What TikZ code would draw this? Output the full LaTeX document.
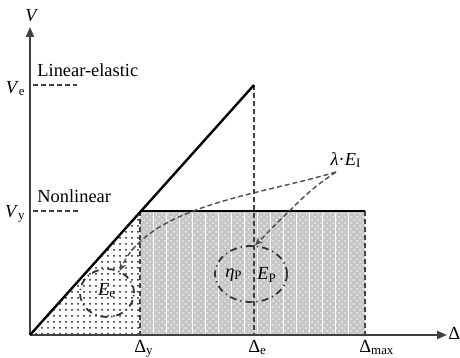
\documentclass[tikz,border=0pt]{standalone}
\usepackage{fontspec}
\setmainfont{Liberation Serif}
\usetikzlibrary{arrows.meta,patterns,shapes.geometric,positioning}

\begin{document}
\begin{tikzpicture}[x=0.5pt, y=-0.5pt,
    every node/.style={font=\fontsize{9.2}{11}\selectfont, inner sep=0pt},
    axis/.style={draw=black!75, line width=1pt, -{Triangle[length=5pt,width=4pt]}},
    curve/.style={line width=1.2pt},
    guide/.style={black!75, line width=0.6pt, dash pattern=on 2.5pt off 1.5pt},
    ring/.style={draw=black!80, ellipse, line width=0.9pt,
                 dash pattern=on 3.5pt off 2pt on 0.6pt off 2pt},
    pointer/.style={black!70, line width=0.7pt, dash pattern=on 2.5pt off 1.5pt,
                    -{Stealth[length=4pt,width=3.5pt]}},
  ]
  \useasboundingbox (0,0) rectangle (460,358);

  % Key points of the curve
  \coordinate (O) at (30,335);
  \coordinate (Vtop) at (30,27);
  \coordinate (Dend) at (447,335);
  \coordinate (Y) at (140,211);
  \coordinate (Yb) at (140,335);
  \coordinate (P) at (254,85);
  \coordinate (Pb) at (254,335);
  \coordinate (M) at (365,211);
  \coordinate (Mb) at (365,335);

  % Energy areas
  \fill[pattern=dots, pattern color=black!90] (O) -- (Y) -- (Yb) -- cycle;
  \fill[gray!45] (Y) rectangle (Mb);
  \fill[pattern=crosshatch dots, pattern color=white!85!gray] (Y) rectangle (Mb);
  \foreach \x in {153,166,...,360}
    \draw[white, line width=0.35pt] (\x,213) -- (\x,333);

  % Axes
  \draw[axis] (O) -- (Vtop);
  \draw[axis] (O) -- (Dend);
  \node (V) at (32,16) {\textit{V}};
  \node[anchor=west] (D) at (448,333) {Δ};

  % Guide lines
  \draw[guide] (33,85) -- (77,85);
  \draw[guide] (33,211) -- (78,211);
  \draw[guide] (P) -- (Pb);
  \draw[guide] (Y) -- (Yb);
  \draw[guide] (M) -- (Mb);

  % Capacity curves
  \draw[curve] (O) -- (P);
  \draw[curve] (Y) -- (M);

  % Axis labels
  \node[anchor=east] (Ve) at (26,89) {\textit{V}\textsubscript{e}};
  \node[anchor=east] (Vy) at (26,214) {\textit{V}\textsubscript{y}};
  \node[anchor=west] (lin) at (37,70) {Linear-elastic};
  \node[anchor=west] (nonlin) at (37,196) {Nonlinear};
  \node[anchor=north west] (Dy) at (134,340) {Δ\textsubscript{y}};
  \node[anchor=north west] (De) at (248,340) {Δ\textsubscript{e}};
  \node[anchor=north west] (Dmax) at (359,340) {Δ\textsubscript{max}};

  % Energy labels
  \node[ring, minimum width=27pt, minimum height=24pt] (EeRing) at (107,293) {};
  \node (Ee) at (107,291) {\textit{E}\textsubscript{e}};
  \node[ring, minimum width=36pt, minimum height=28pt] (EpRing) at (251,274) {};
  \node (eta) at (234,275) {\textit{η}\textsubscript{P}};
  \node (Ep) at (267,275) {\textit{E}\textsubscript{P}};
  \node (lam) at (346,160) {\textit{λ}·\textit{E}\textsubscript{I}};

  % Pointers
  \coordinate (split) at (336,172);
  \draw[pointer] (split) .. controls (260,195) and (150,205) .. (EeRing.60);
  \draw[pointer] (split) .. controls (310,190) .. (EpRing.82);
\end{tikzpicture}
\end{document}
